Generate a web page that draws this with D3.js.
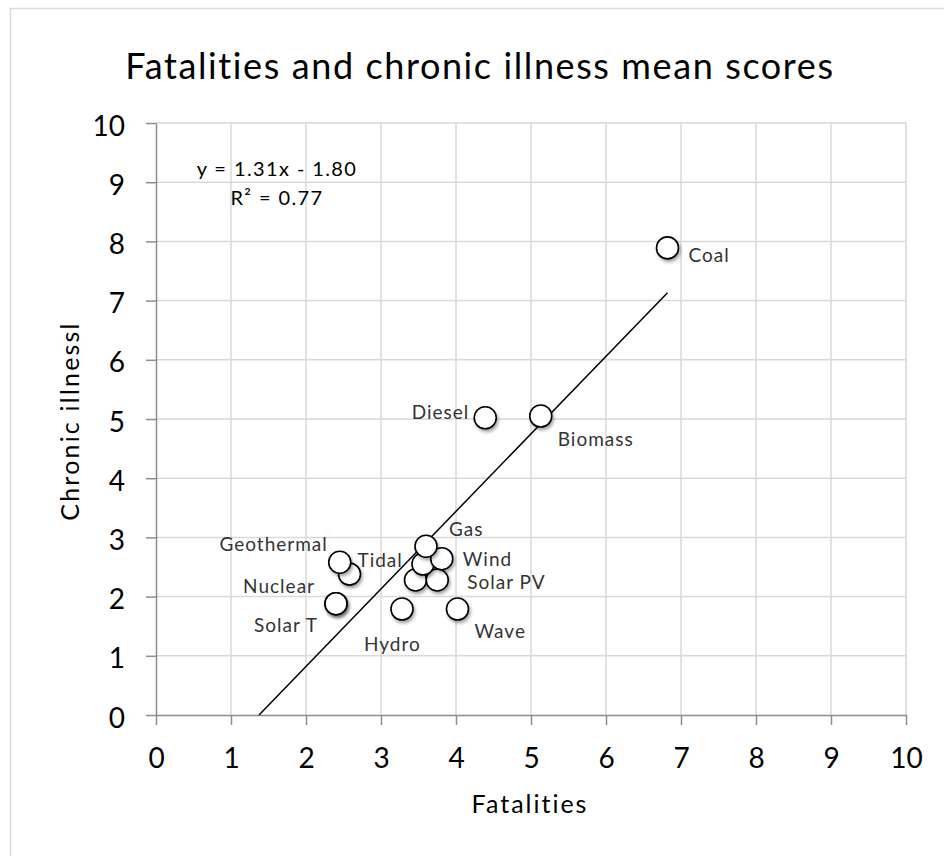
<!DOCTYPE html>
<html><head><meta charset="utf-8">
<script src="https://cdn.jsdelivr.net/npm/d3@7"></script>
<style>body{margin:0;background:#fff}</style>
</head><body><svg id="c" width="944" height="856"></svg>
<script>
const names = ["Coal","Biomass","Diesel","Gas","Wind","","","Solar PV","Hydro","Wave","Geothermal","Tidal","Nuclear","Solar T"];
const fatalities = [6.82,5.13,4.39,3.60,3.81,3.56,3.46,3.75,3.28,4.02,2.45,2.58,2.40,2.40];
const chronic =    [7.89,5.05,5.02,2.85,2.64,2.55,2.28,2.28,1.79,1.79,2.58,2.38,1.88,1.88];
const xTicks = [0,1,2,3,4,5,6,7,8,9,10];
const yTicks = [0,1,2,3,4,5,6,7,8,9,10];
const slope = 1.31, intercept = -1.80, r2 = 0.77;
const title = "Fatalities and chronic illness mean scores";
const xTitle = "Fatalities", yTitle = "Chronic illnessl";

// label placement (layout only)
const labelLayout = {
  "Coal":{dx:21,dy:7,a:"start"}, "Biomass":{dx:17,dy:23,a:"start"},
  "Diesel":{dx:-16,dy:-5,a:"end"}, "Gas":{dx:23,dy:-17,a:"start"},
  "Wind":{dx:21,dy:1,a:"start"}, "Solar PV":{dx:30,dy:2,a:"start"},
  "Wave":{dx:17,dy:22,a:"start"}, "Hydro":{dx:-38,dy:35,a:"start"},
  "Tidal":{dx:8,dy:-14,a:"start"}, "Geothermal":{dx:-12,dy:-18,a:"end"},
  "Nuclear":{dx:-21,dy:-17,a:"end"}, "Solar T":{dx:-18,dy:22,a:"end"}
};

const svg = d3.select("#c");
const font = "Lato, 'Open Sans', sans-serif";
const defs = svg.append("defs");
const f = defs.append("filter").attr("id","sh").attr("x","-50%").attr("y","-50%").attr("width","200%").attr("height","200%");
f.append("feDropShadow").attr("dx",1.5).attr("dy",2.5).attr("stdDeviation",1.5).attr("flood-color","#000").attr("flood-opacity",0.35);

svg.append("rect").attr("x",10.5).attr("y",8.5).attr("width",960).attr("height",870)
  .attr("fill","#fff").attr("stroke","#d9d9d9").attr("stroke-width",1.5);

const L=156, R=906, T=123, B=715;
const x = d3.scaleLinear().domain([0,10]).range([L,R]);
const y = d3.scaleLinear().domain([0,10]).range([B,T]);

svg.append("text").attr("x",480).attr("y",79).attr("text-anchor","middle")
  .attr("font-family",font).attr("font-size",36).attr("letter-spacing",1.6).attr("fill","#000").text(title);

// grid
svg.append("g").selectAll("line").data(xTicks.slice(1)).join("line")
  .attr("x1",d=>x(d)).attr("x2",d=>x(d)).attr("y1",T).attr("y2",B)
  .attr("stroke","#d9d9d9").attr("stroke-width",1.5);
svg.append("g").selectAll("line").data(yTicks.slice(1)).join("line")
  .attr("x1",L).attr("x2",R).attr("y1",d=>y(d)).attr("y2",d=>y(d))
  .attr("stroke","#d9d9d9").attr("stroke-width",1.5);

// axes
const xa = svg.append("g").attr("transform",`translate(0,${B})`)
  .call(d3.axisBottom(x).tickValues(xTicks).tickSize(10).tickSizeOuter(0).tickPadding(22).tickFormat(d3.format("d")));
const ya = svg.append("g").attr("transform",`translate(${L},0)`)
  .call(d3.axisLeft(y).tickValues(yTicks).tickSize(10).tickSizeOuter(0).tickPadding(21).tickFormat(d3.format("d")));
[xa,ya].forEach(g=>{
  g.select(".domain").attr("stroke","#8c8c8c").attr("stroke-width",1.5);
  g.selectAll(".tick line").attr("stroke","#8c8c8c").attr("stroke-width",1.5);
  g.selectAll(".tick text").attr("font-family",font).attr("font-size",28).attr("fill","#000");
});
xa.selectAll(".tick text").attr("dy","0.75em");
ya.selectAll(".tick text").attr("dy","0.43em");

svg.append("text").attr("x",530).attr("y",813).attr("text-anchor","middle")
  .attr("font-family",font).attr("font-size",25).attr("letter-spacing",2).attr("fill","#000").text(xTitle);
svg.append("text").attr("transform","translate(79,421) rotate(-90)").attr("text-anchor","middle")
  .attr("font-family",font).attr("font-size",25).attr("letter-spacing",2.2).attr("fill","#000").text(yTitle);

// trendline
const x0 = -intercept/slope, x1 = d3.max(fatalities);
svg.append("line").attr("x1",x(x0)).attr("y1",y(slope*x0+intercept))
  .attr("x2",x(x1)).attr("y2",y(slope*x1+intercept)).attr("stroke","#000").attr("stroke-width",1.5);

svg.append("text").attr("x",277).attr("y",176).attr("text-anchor","middle")
  .attr("font-family",font).attr("font-size",20).attr("letter-spacing",1.4).attr("fill","#000")
  .text(`y = ${slope.toFixed(2)}x - ${Math.abs(intercept).toFixed(2)}`);
svg.append("text").attr("x",277).attr("y",205).attr("text-anchor","middle")
  .attr("font-family",font).attr("font-size",20).attr("letter-spacing",1.4).attr("fill","#000")
  .text(`R² = ${r2.toFixed(2)}`);

// points (draw in reverse so first ones on top like reference)
const pts = names.map((n,i)=>({n, fx:fatalities[i], cy:chronic[i]}));
const drawOrder = [13,12,11,10,6,7,5,4,3,8,9,2,1,0];
svg.append("g").selectAll("circle").data(drawOrder.map(i=>pts[i])).join("circle")
  .attr("cx",d=>x(d.fx)).attr("cy",d=>y(d.cy)).attr("r",11)
  .attr("fill","#fff").attr("stroke","#000").attr("stroke-width",1.6).attr("filter","url(#sh)");

svg.append("g").selectAll("text").data(pts.filter(d=>d.n && labelLayout[d.n])).join("text")
  .attr("x",d=>x(d.fx)+labelLayout[d.n].dx).attr("y",d=>y(d.cy)+labelLayout[d.n].dy)
  .attr("dy","0.35em").attr("text-anchor",d=>labelLayout[d.n].a)
  .attr("font-family",font).attr("font-size",19).attr("letter-spacing",1).attr("fill","#333").text(d=>d.n);
</script></body></html>
